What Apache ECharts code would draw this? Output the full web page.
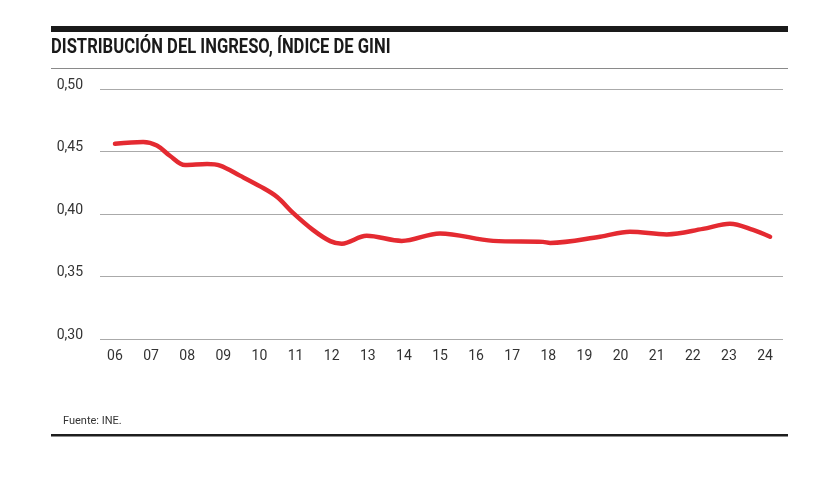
<!DOCTYPE html>
<html>
<head>
<meta charset="utf-8">
<script src="https://cdn.jsdelivr.net/npm/echarts@6/dist/echarts.min.js"></script>
<style>
html,body{margin:0;padding:0;background:#fff;}
#chart{width:833px;height:478px;}
</style>
</head>
<body>
<div id="chart"></div>
<script>
// Data
const titleText = 'DISTRIBUCIÓN DEL INGRESO, ÍNDICE DE GINI';
const sourceText = 'Fuente: INE.';
const tickYears = [2006,2007,2008,2009,2010,2011,2012,2013,2014,2015,2016,2017,2018,2019,2020,2021,2022,2023,2024];
const years = [2006.0,2006.78,2007.16,2007.52,2007.94,2008.55,2008.91,2009.46,2010.02,2010.49,2010.93,2011.48,2011.96,2012.28,2012.97,2013.94,2015.0,2016.47,2017.85,2018.05,2019.43,2020.26,2021.28,2022.28,2023.03,2023.67,2024.14];
const gini  = [0.4562,0.4577,0.4548,0.4466,0.4392,0.4400,0.4387,0.4307,0.4221,0.4136,0.4009,0.3873,0.3783,0.3763,0.3826,0.3785,0.3845,0.3785,0.3777,0.3769,0.3818,0.3859,0.3837,0.3881,0.3922,0.3873,0.3818];

const chart = echarts.init(document.getElementById('chart'), null, {renderer:'canvas'});
const labelFont = 'Roboto';
chart.setOption({
  animation:false,
  backgroundColor:'#fff',
  grid:{left:100, right:50, top:89, bottom:139, containLabel:false},
  xAxis:{
    type:'value',
    min:2005.585, max:2024.498,
    axisLine:{show:false}, axisTick:{show:false}, splitLine:{show:false},
    axisLabel:{
      customValues:tickYears,
      formatter:v=>String(Math.round(v)).slice(2),
      fontFamily:labelFont, fontSize:14, color:'#333', margin:10
    }
  },
  yAxis:{
    type:'value', min:0.30, max:0.50, interval:0.05,
    axisLine:{show:false}, axisTick:{show:false},
    splitLine:{lineStyle:{color:'#aaaaaa', width:1.2}},
    axisLabel:{
      formatter:v=>v.toFixed(2).replace('.',','),
      fontFamily:labelFont, fontSize:14, color:'#333', margin:17,
      verticalAlign:'bottom', lineHeight:8
    }
  },
  series:[{
    type:'line',
    data:years.map((x,i)=>[x,gini[i]]),
    smooth:0.35,
    symbol:'none',
    lineStyle:{color:'#e42a31', width:4.5, cap:'round', join:'round'}
  }],
  graphic:[
    {type:'rect', shape:{x:51,y:26,width:737,height:6}, style:{fill:'#1a1a1a'}},
    {type:'text', x:51, y:47.5, scaleX:0.79, originX:0,
      style:{text:titleText, font:'bold 21px Roboto', fill:'#1a1a1a', verticalAlign:'middle'}},
    {type:'rect', shape:{x:51,y:68,width:737,height:1}, style:{fill:'#8a8a8a'}},
    {type:'text', x:63, y:421.5,
      style:{text:sourceText, font:'11px Roboto', fill:'#333', verticalAlign:'middle'}},
    {type:'rect', shape:{x:51,y:434,width:737,height:2.5}, style:{fill:'#1e1e1e'}}
  ]
});
</script>
</body>
</html>
